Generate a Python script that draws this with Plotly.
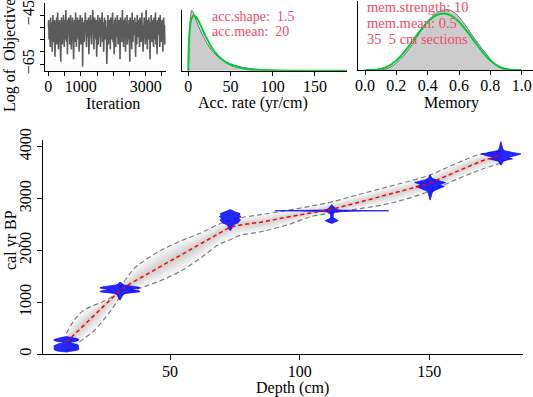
import numpy as np
import plotly.graph_objects as go

W, H = 533, 397

# ---------------- data ----------------
log_objective = [
 -50,-47,-55,-49,-52,-58,-46,-51,-54,-48,-60,-50,-45,-53,-56,-49,-47,-62,-51,-48,
 -54,-46,-57,-50,-44,-52,-59,-48,-53,-47,-55,-50,-64,-49,-46,-52,-57,-48,-51,-45,
 -53,-58,-47,-50,-55,-43,-51,-56,-49,-61,-47,-52,-46,-54,-50,-57,-48,-45,-53,-59,
 -49,-51,-46,-55,-48,-63,-50,-47,-52,-56,-44,-51,-58,-49,-53,-46,-50,-55,-47,-60,
 -52,-48,-45,-54,-57,-49,-51,-46,-66,-50,-48,-53,-56,-47,-51,-44,-55,-49,-58,-52,
 -47,-50,-54,-46,-61,-49,-53,-48,-45,-56,-51,-57,-47,-50,-43,-54,-52,-59,-48,-46,
 -53,-50,-55,-47,-62,-49,-51,-45,-57,-52,-48,-54,-46,-50,-58,-47,-53,-49,-44,-56,
 -51,-48,-60,-52,-46,-55,-49,-47,-54,-50,-65,-48,-52,-45,-57,-51,-47,-53,-49,-59,
 -46,-50,-55,-48,-52,-44,-56,-49,-51,-61,-47,-53,-46,-58,-50,-48,-54,-45,-52,-57,
 -49,-47,-55,-51,-63,-46,-50,-53,-48,-56,-43,-52,-49,-58,-47,-51,-54,-46,-60,-50,
 -48,-53,-45,-57,-52,-49,-55,-47,-51,-64,-46,-50,-54,-48,-59,-44,-52,-56,-49,-47,
 -53,-50,-46,-55,-62,-48,-51,-57,-45,-52,-49,-54,-47,-50,-58,-46,-53,-48,-56,-51,
 -44,-55,-49,-60,-47,-52,-46,-54,-50,-57,-48,-43,-53,-51,-59,-47,-50,-55,-46,-52,
 -49,-63,-48,-54,-45,-51,-56,-47,-50,-53,-58,-46,-52,-49,-55,-44,-57,-48,-51,-61,
 -47,-53,-50,-46,-54,-49,-58,-45,-52,-56,-48,-51,-47,-55,-60,-50,-46,-53,-49,-57,
]
n_iterations = 3590
iterations = np.linspace(0, n_iterations, len(log_objective))

acc_post_x = [0, 1, 2, 3, 4, 5, 6, 8, 10, 13, 16, 20, 25, 30, 35, 40, 50, 60, 70, 80, 100, 130, 160, 190]
acc_post_y = [0, 0.018, 0.030, 0.037, 0.0396, 0.0392, 0.038, 0.035, 0.032, 0.028, 0.0245, 0.020,
              0.0155, 0.0118, 0.0092, 0.0072, 0.0045, 0.0028, 0.0017, 0.0010, 0.0004, 0.0001, 0.00003, 0]
acc_prior_x = [0, 1, 2, 4, 6.7, 10, 15, 20, 30, 40, 50, 70, 100, 150, 190]
acc_prior_y = [0, 0.0215, 0.0282, 0.0343, 0.0363, 0.0346, 0.0292, 0.0231, 0.0134, 0.0073,
               0.0039, 0.0010, 0.00013, 0, 0]

mem_post_x = [0.10, 0.15, 0.2, 0.25, 0.3, 0.35, 0.4, 0.45, 0.5, 0.53, 0.56, 0.6, 0.65, 0.7, 0.75, 0.8, 0.85, 0.9]
mem_post_y = [0, 0.08, 0.30, 0.65, 1.10, 1.62, 2.12, 2.45, 2.60, 2.62, 2.55, 2.30, 1.85, 1.35, 0.90, 0.48, 0.15, 0]
mem_prior_x = [0, 0.05, 0.1, 0.15, 0.2, 0.25, 0.3, 0.35, 0.4, 0.45, 0.5, 0.55, 0.6, 0.65, 0.7, 0.75, 0.8, 0.85, 0.9, 0.95, 1.0]
mem_prior_y = [0, 0.003, 0.041, 0.167, 0.413, 0.779, 1.225, 1.688, 2.090, 2.364, 2.461, 2.364, 2.090,
               1.688, 1.225, 0.779, 0.413, 0.167, 0.041, 0.003, 0]

model_depth = [10, 13, 16, 20, 24, 28, 31, 34, 37, 40, 46, 54, 62, 69, 73, 77, 85, 95, 105, 112, 120, 135, 150, 160, 170, 178]
model_mean  = [230, 375, 520, 715, 910, 1105, 1245, 1340, 1425, 1510, 1680, 1910, 2140, 2340, 2445, 2490,
               2545, 2640, 2730, 2790, 2890, 3090, 3290, 3510, 3720, 3850]
model_upper = [400, 650, 820, 930, 1010, 1120, 1300, 1520, 1690, 1800, 1990, 2180, 2340, 2510, 2580, 2630,
               2690, 2770, 2860, 2930, 3040, 3240, 3450, 3670, 3860, 3910]
model_lower = [60, 160, 270, 420, 640, 900, 1120, 1200, 1245, 1300, 1410, 1600, 1860, 2120, 2200, 2290,
               2360, 2490, 2660, 2720, 2780, 2910, 3140, 3360, 3560, 3690]

date_depths = [10, 30.7, 73.2, 112.4, 150.3, 177.6]
date_ages = [
    [40, 60, 80, 100, 120, 140, 160, 180, 200, 215, 230, 245, 260, 280, 300, 320, 340],
    [1040, 1080, 1120, 1150, 1170, 1185, 1200, 1215, 1230, 1245, 1260, 1275, 1290, 1305, 1320, 1335, 1360, 1390],
    [2380, 2420, 2460, 2500, 2530, 2560, 2590, 2620, 2650, 2680, 2710, 2740, 2770, 2790],
    [2520, 2540, 2560, 2575, 2590, 2610, 2630, 2660, 2700, 2730, 2750, 2758, 2764, 2770, 2778, 2800, 2830, 2860, 2880],
    [2970, 3020, 3070, 3110, 3150, 3180, 3210, 3235, 3260, 3285, 3310, 3335, 3360, 3390, 3420, 3460],
    [3640, 3680, 3720, 3745, 3765, 3785, 3805, 3825, 3845, 3860, 3875, 3895, 3920, 3950, 3990, 4040, 4100],
]
date_probs = [
    [0, 3.5, 4.5, 4.8, 4.6, 4.7, 4.8, 4.4, 3.0, 1.5, 1.0, 3.5, 4.6, 4.8, 4.2, 2.0, 0],
    [0, 0.5, 1.0, 1.2, 2.0, 5.0, 7.5, 7.7, 6.5, 4.0, 6.5, 7.7, 7.5, 6.0, 3.5, 1.5, 0.6, 0],
    [0, 0.6, 0.8, 1.5, 3.0, 3.5, 4.0, 3.2, 4.2, 3.5, 3.8, 2.0, 0.8, 0],
    [0, 1.0, 2.2, 2.5, 2.0, 1.0, 0.6, 0.5, 0.6, 1.0, 3.0, 12, 22, 12, 3.0, 1.5, 1.0, 0.5, 0],
    [0, 0.3, 0.5, 0.8, 1.5, 3.0, 4.5, 5.5, 3.5, 4.5, 6.0, 4.0, 2.0, 0.7, 0.4, 0],
    [0, 0.5, 1.0, 2.5, 4.5, 3.0, 3.5, 5.5, 7.0, 7.7, 6.0, 3.5, 1.5, 0.8, 0.5, 0.3, 0],
]

acc_shape, acc_mean = 1.5, 20
mem_strength, mem_mean = 10, 0.5
n_sections, section_thick = 35, 5

# ---------------- helpers ----------------
def px(x):
    return x / W

def py(y):
    return 1 - y / H

FONT = "Liberation Serif, Times New Roman, serif"
TXT_RED = "#F04A6A"
GREEN = "rgb(0,205,50)"

fig = go.Figure()

# Panel 1: MCMC trace
fig.add_trace(go.Scatter(x=iterations, y=log_objective, mode="lines",
                         line=dict(color="#5a5a5a", width=1.6), xaxis="x", yaxis="y"))

# Panel 2: accumulation rate
fig.add_trace(go.Scatter(x=acc_post_x, y=acc_post_y, mode="lines", fill="tozeroy",
                         fillcolor="rgb(204,204,204)", line=dict(color="rgb(110,110,110)", width=1, shape="spline"),
                         xaxis="x2", yaxis="y2"))
fig.add_trace(go.Scatter(x=acc_prior_x, y=acc_prior_y, mode="lines",
                         line=dict(color=GREEN, width=2, shape="spline"), xaxis="x2", yaxis="y2"))

# Panel 3: memory
fig.add_trace(go.Scatter(x=mem_post_x, y=mem_post_y, mode="lines", fill="tozeroy",
                         fillcolor="rgb(204,204,204)", line=dict(color="rgb(110,110,110)", width=1, shape="spline"),
                         xaxis="x3", yaxis="y3"))
fig.add_trace(go.Scatter(x=mem_prior_x, y=mem_prior_y, mode="lines",
                         line=dict(color=GREEN, width=2, shape="spline"), xaxis="x3", yaxis="y3"))

# Main: age-depth model shading
md = np.array(model_depth, float)
mm = np.array(model_mean, float)
mu = np.array(model_upper, float)
ml = np.array(model_lower, float)
for f in [1.0, 0.82, 0.64, 0.47, 0.31, 0.16]:
    up = mm + f * (mu - mm)
    lo = mm - f * (mm - ml)
    fig.add_trace(go.Scatter(x=np.concatenate([md, md[::-1]]), y=np.concatenate([up, lo[::-1]]),
                             mode="lines", fill="toself", fillcolor="rgba(0,0,0,0.032)",
                             line=dict(width=0, shape="spline"), xaxis="x4", yaxis="y4"))

for bound in (model_upper, model_lower):
    fig.add_trace(go.Scatter(x=model_depth, y=bound, mode="lines",
                             line=dict(color="rgb(125,125,125)", width=1.2, dash="5px,3px", shape="spline"),
                             xaxis="x4", yaxis="y4"))

# calibrated dates
for d, ages, probs in zip(date_depths, date_ages, date_probs):
    a = np.array(ages, float)
    p = np.array(probs, float)
    xs = np.concatenate([d + p, (d - p)[::-1]])
    ys = np.concatenate([a, a[::-1]])
    fig.add_trace(go.Scatter(x=xs, y=ys, mode="lines", fill="toself",
                             fillcolor="rgba(0,0,255,0.85)", line=dict(color="rgba(0,0,255,0.85)", width=0.8),
                             xaxis="x4", yaxis="y4"))

fig.add_trace(go.Scatter(x=model_depth, y=model_mean, mode="lines",
                         line=dict(color="red", width=1.5, dash="4px,3px"), xaxis="x4", yaxis="y4"))

# ---------------- axes ----------------
ax_common = dict(showgrid=False, zeroline=False, showline=True, linecolor="black", linewidth=1,
                 automargin=False, ticks="outside", tickcolor="black",
                 tickfont=dict(family=FONT, size=16, color="black"))
ax_plain = dict(showgrid=False, zeroline=False, showline=True, linecolor="black", linewidth=1,
                automargin=False, showticklabels=False, ticks="")

it_ticks = [0, 500, 1000, 1500, 2000, 2500, 3000, 3500]
it_text = ["0", "", "1000", "", "", "", "3000", ""]

fig.update_layout(
    width=W, height=H, margin=dict(l=0, r=0, t=0, b=0, autoexpand=False),
    paper_bgcolor="white", plot_bgcolor="white", showlegend=False,
    xaxis=dict(**ax_common, domain=[px(45), px(166)], range=[-102, 3625], anchor="y",
               tickvals=it_ticks, ticktext=it_text, ticklen=4, ticklabelstandoff=-3),
    yaxis=dict(**ax_common, domain=[py(70.7), py(3)], range=[-67.7, -40.1], anchor="x",
               tickvals=[-45, -50, -55, -60, -65], ticktext=["\u221245", "", "", "", "\u221265"],
               tickangle=-90, ticklen=4),
    xaxis2=dict(**ax_common, domain=[px(182.3), px(347)], range=[-7.1, 188], anchor="y2",
                tickvals=[0, 50, 100, 150], ticklen=4, ticklabelstandoff=-3),
    yaxis2=dict(**ax_plain, domain=[py(70.7), py(10)], range=[0, 0.0398], anchor="x2"),
    xaxis3=dict(**ax_common, domain=[px(358.3), 1.0], range=[-0.0428, 1.072], anchor="y3",
                tickvals=[0, 0.2, 0.4, 0.6, 0.8, 1.0], ticktext=["0.0", "0.2", "0.4", "0.6", "0.8", "1.0"],
                ticklen=4, ticklabelstandoff=-3),
    yaxis3=dict(**ax_plain, domain=[py(70), py(1)], range=[0, 3.0], anchor="x3"),
    xaxis4=dict(**ax_common, domain=[px(43), px(522.7)], range=[1, 186], anchor="y4",
                tickvals=[50, 100, 150], ticklen=5, ticklabelstandoff=-3),
    yaxis4=dict(**ax_common, domain=[py(354.3), py(140)], range=[-3, 4129], anchor="x4",
                tickvals=[0, 1000, 2000, 3000, 4000], tickangle=-90, ticklen=5),
)

def label(text, x, y, angle=0, color="black", size=16, xanchor="center"):
    fig.add_annotation(text=text, x=px(x), y=py(y), xref="paper", yref="paper", showarrow=False,
                       textangle=angle, xanchor=xanchor, yanchor="middle",
                       font=dict(family=FONT, size=size, color=color))

label("Log of\u00a0 Objective", 10, 56, angle=-90)
label("Iteration", 112.5, 103)
label("Acc. rate (yr/cm)", 252.5, 103)
label("Memory", 451.7, 103)
label("Depth (cm)", 292, 387.5)
label("cal yr BP", 11, 240, angle=-90)

label(f"acc.shape:\u00a0 {acc_shape}", 210, 16.2, color=TXT_RED, size=14, xanchor="left")
label(f"acc.mean:\u00a0 {acc_mean}", 210, 31.0, color=TXT_RED, size=14, xanchor="left")
label(f"mem.strength: {mem_strength}", 365, 6.7, color=TXT_RED, size=14.5, xanchor="left")
label(f"mem.mean: {mem_mean}", 365, 23.3, color=TXT_RED, size=14.5, xanchor="left")
label(f"{n_sections}\u00a0 {section_thick} cm sections", 365, 38.6, color=TXT_RED, size=14.5, xanchor="left")

fig.write_html("out.html", post_script="document.body.style.margin='0px';",
               config={"displayModeBar": False})
